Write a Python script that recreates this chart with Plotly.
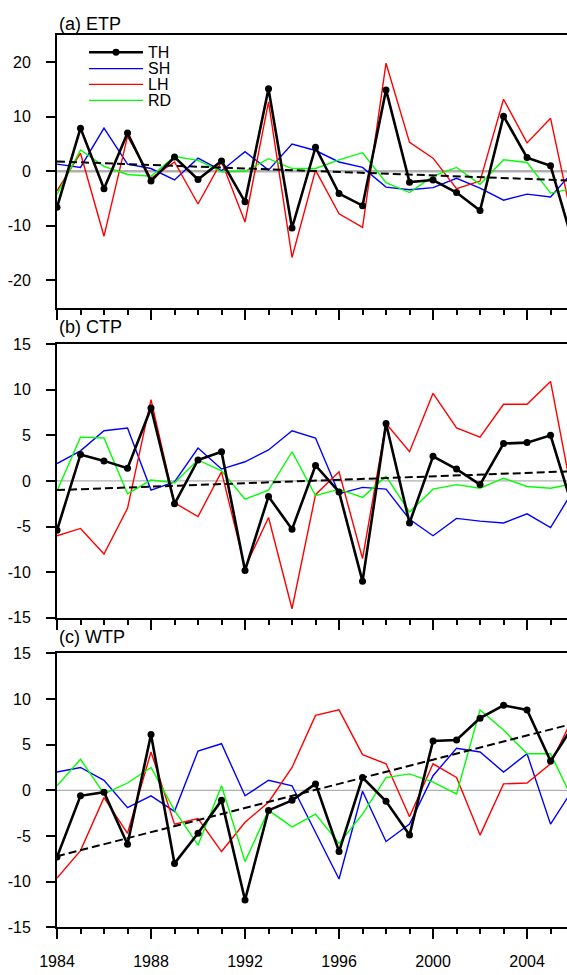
import plotly.graph_objects as go

# ---- data: anomalies per year, three regions ----
years = list(range(1984, 2007))

th_a = [-6.6, 7.9, -3.2, 7.0, -1.8, 2.6, -1.5, 1.9, -5.6, 15.1, -10.4, 4.4,
        -4.1, -6.3, 14.9, -2.0, -1.6, -3.9, -7.2, 10.1, 2.5, 1.0, -13.8]
sh_a = [1.3, 0.7, 7.9, 1.3, 0.5, -1.6, 2.4, 0.1, 3.6, 0.2, 5.0, 3.8,
        1.7, 0.7, -2.9, -3.4, -3.0, -1.3, -3.1, -5.3, -4.2, -4.7, 0.2]
lh_a = [-3.6, 3.3, -11.9, 6.4, -1.3, 1.7, -6.0, 1.8, -9.3, 12.7, -15.8, 0.2,
        -7.8, -10.3, 19.8, 5.3, 2.4, -3.2, -1.8, 13.2, 5.2, 9.7, -10.5]
rd_a = [-4.2, 3.9, 0.9, -0.6, -0.9, 2.7, 2.0, -0.1, 0.0, 2.3, 0.5, 0.5,
        2.1, 3.4, -2.1, -3.9, -0.9, 0.7, -2.4, 2.1, 1.6, -4.0, -3.1]

th_b = [-5.4, 2.9, 2.2, 1.4, 8.0, -2.5, 2.3, 3.2, -9.8, -1.7, -5.3, 1.7,
        -1.2, -11.0, 6.3, -4.6, 2.7, 1.3, -0.4, 4.1, 4.2, 5.0, -3.4]
sh_b = [1.9, 3.3, 5.5, 5.8, -1.0, -0.1, 3.6, 1.3, 2.1, 3.4, 5.5, 4.7,
        -1.4, -0.7, -0.9, -4.2, -6.0, -4.1, -4.4, -4.6, -3.6, -5.1, -0.9]
lh_b = [-6.0, -5.2, -8.0, -3.0, 8.9, -2.4, -3.9, 1.0, -9.5, -4.0, -14.0, -1.5,
        1.0, -8.5, 6.3, 3.2, 9.6, 5.8, 4.8, 8.4, 8.4, 10.9, -2.6]
rd_b = [-1.1, 4.8, 4.7, -1.4, 0.1, -0.2, 2.3, 1.1, -2.0, -1.0, 3.2, -1.6,
        -0.9, -1.8, 0.5, -3.4, -0.9, -0.4, -0.8, 0.3, -0.6, -0.8, -0.3]

th_c = [-7.3, -0.6, -0.2, -5.9, 6.1, -8.0, -4.7, -1.1, -12.0, -2.2, -1.1, 0.7,
        -6.7, 1.4, -1.2, -4.9, 5.4, 5.5, 7.9, 9.3, 8.8, 3.2, 7.2]
sh_c = [2.0, 2.5, 1.1, -1.9, -0.6, -2.3, 4.3, 5.1, -0.6, 1.1, 0.5, -4.6,
        -9.7, -0.1, -5.6, -3.7, 1.6, 4.6, 4.2, 2.0, 4.0, -3.7, 0.3]
lh_c = [-9.6, -6.6, -0.8, -4.7, 4.2, -3.7, -3.1, -6.7, -3.5, -1.3, 2.5, 8.2,
        8.8, 3.9, 2.9, -2.9, 2.9, 1.4, -4.9, 0.7, 0.8, 2.9, 8.2]
rd_c = [0.5, 3.4, -0.4, 0.8, 2.5, -2.2, -6.0, 0.5, -7.8, -2.2, -4.0, -2.6,
        -5.8, -2.6, 1.4, 1.8, 0.9, -0.4, 8.8, 6.6, 4.0, 4.0, -1.3]

# linear trend of TH, value at first and last year
trend_years = [1984, 2006]
trend_a = [1.79, -1.72]
trend_b = [-1.00, 1.07]
trend_c = [-7.22, 7.32]

panel_titles = ["(a) ETP", "(b) CTP", "(c) WTP"]
series_names = ["TH", "SH", "LH", "RD"]
series_colors = ["#000000", "#0000ff", "#ff0000", "#00ff00"]
y_ranges = [[-25, 25], [-15, 15], [-15, 15]]
y_ticks = [[-20, -10, 0, 10, 20],
           [-15, -10, -5, 0, 5, 10, 15],
           [-15, -10, -5, 0, 5, 10, 15]]
x_ticks = [1984, 1988, 1992, 1996, 2000, 2004]

panels = [
    (th_a, sh_a, lh_a, rd_a, trend_a),
    (th_b, sh_b, lh_b, rd_b, trend_b),
    (th_c, sh_c, lh_c, rd_c, trend_c),
]

# ---- layout geometry (pixels) ----
W, H = 567, 975
LEFT = 57
panel_px = [(27.3, 305.0), (342.0, 620.7), (656.7, 935.7)]   # (top, bottom)
title_px = [16.0, 325.0, 640.5]
FONT = "Liberation Sans, Arial, Helvetica, sans-serif"
TICK_SIZE = 16


def py(p):
    return 1 - p / H


fig = go.Figure()

for i, (th, sh, lh, rd, trend) in enumerate(panels):
    ax = "" if i == 0 else str(i + 1)
    xa, ya = "x" + ax, "y" + ax
    for vals, name, col in zip([sh, lh, rd], series_names[1:], series_colors[1:]):
        fig.add_trace(go.Scatter(x=years, y=vals, mode="lines", name=name,
                                 line=dict(color=col, width=1.4),
                                 xaxis=xa, yaxis=ya, showlegend=False))
    fig.add_trace(go.Scatter(x=trend_years, y=trend, mode="lines",
                             line=dict(color="black", width=2, dash="8px,4px"),
                             xaxis=xa, yaxis=ya, showlegend=False))
    fig.add_trace(go.Scatter(x=years, y=th, mode="lines+markers", name="TH",
                             line=dict(color="black", width=2.6),
                             marker=dict(color="black", size=7),
                             xaxis=xa, yaxis=ya, showlegend=False))

    top, bot = panel_px[i]
    last = i == len(panels) - 1
    fig.layout["xaxis" + ax] = dict(
        domain=[0, 1], anchor=ya, range=[1984, 2005.7],
        tickvals=x_ticks, ticktext=[str(v) for v in x_ticks],
        ticks="outside", ticklen=10, tickwidth=1.5, tickcolor="black",
        showticklabels=last, ticklabelstandoff=8,
        tickfont=dict(size=TICK_SIZE, color="black", family=FONT),
        minor=dict(dtick=1, tick0=1984, ticks="outside", ticklen=5,
                   tickwidth=1.5, tickcolor="black", showgrid=False),
        showline=True, linecolor="black", linewidth=2, mirror=True,
        showgrid=False, zeroline=False)
    fig.layout["yaxis" + ax] = dict(
        domain=[py(bot), py(top)], anchor=xa, range=y_ranges[i],
        tickvals=y_ticks[i], ticktext=[str(v) for v in y_ticks[i]],
        ticks="outside", ticklen=9, tickwidth=1.5, tickcolor="black",
        ticklabelstandoff=12,
        tickfont=dict(size=TICK_SIZE, color="black", family=FONT),
        showline=True, linecolor="black", linewidth=2, mirror=False,
        showgrid=False, zeroline=False)

    # zero reference line
    fig.add_shape(type="line", xref=xa + " domain", yref=ya, x0=0, x1=1, y0=0, y1=0,
                  line=dict(color="#b0b0b0", width=2.4 if i == 0 else 1.3), layer="below")

    fig.add_annotation(text=panel_titles[i], xref="paper", yref="paper",
                       x=0, y=py(title_px[i]), xanchor="left", yanchor="middle",
                       showarrow=False, font=dict(size=18, color="black", family=FONT))

# ---- legend inside the top panel ----
leg_x0, leg_x1, leg_tx = 89, 143, 146
leg_y = [45, 61.7, 77.7, 94]
for name, col, ypx in zip(series_names, series_colors, leg_y):
    fig.add_shape(type="line", xref="paper", yref="paper",
                  x0=(leg_x0 - LEFT) / (W - LEFT), x1=(leg_x1 - LEFT) / (W - LEFT),
                  y0=py(ypx), y1=py(ypx),
                  line=dict(color=col, width=2.6 if name == "TH" else 1.4))
    fig.add_annotation(text=name, xref="paper", yref="paper",
                       x=(leg_tx - LEFT) / (W - LEFT), y=py(ypx),
                       xanchor="left", yanchor="middle", showarrow=False,
                       font=dict(size=16, color="black", family=FONT))
# dot on the TH legend line
cx = ((leg_x0 + leg_x1) / 2 - LEFT) / (W - LEFT)
r = 3.5
fig.add_shape(type="circle", xref="paper", yref="paper",
              x0=cx - r / (W - LEFT), x1=cx + r / (W - LEFT),
              y0=py(leg_y[0]) - r / H, y1=py(leg_y[0]) + r / H,
              fillcolor="black", line=dict(color="black", width=0))

fig.update_layout(width=W, height=H,
                  margin=dict(l=LEFT, r=0, t=0, b=0),
                  paper_bgcolor="white", plot_bgcolor="white",
                  font=dict(family=FONT, color="black"),
                  showlegend=False)

fig.write_html("out.html")
